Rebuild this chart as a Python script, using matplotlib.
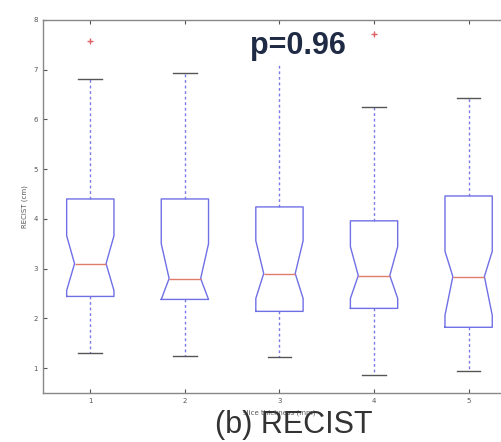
import matplotlib
matplotlib.use('Agg')
import matplotlib.pyplot as plt

# box plot statistics (RECIST, cm)
groups = [1, 2, 3, 4, 5]
med = [3.1, 2.8, 2.9, 2.86, 2.84]
q1 = [2.44, 2.38, 2.14, 2.2, 1.82]
q3 = [4.4, 4.4, 4.24, 3.96, 4.46]
whislo = [1.3, 1.25, 1.22, 0.86, 0.94]
whishi = [6.82, 6.93, 7.45, 6.24, 6.42]
cilo = [2.56, 2.38, 2.4, 2.4, 2.06]
cihi = [3.66, 3.5, 3.56, 3.44, 3.35]
fliers = [[7.58], [], [], [7.72], []]

stats = []
for i in range(len(groups)):
    stats.append(dict(med=med[i], q1=q1[i], q3=q3[i], whislo=whislo[i],
                      whishi=whishi[i], cilo=cilo[i], cihi=cihi[i],
                      fliers=fliers[i], label=str(groups[i])))

fig = plt.figure(figsize=(5.02, 4.42), dpi=100)
ax = fig.add_axes([0.0857, 0.111, 0.942, 0.844])

w = 0.5
parts = ax.bxp(stats, positions=groups, widths=w, shownotches=True,
               boxprops=dict(color='#6f6fe6', linewidth=1.0),
               whiskerprops=dict(color='#7a7ae8', linewidth=1.0, linestyle=(0, (2, 2))),
               capprops=dict(color='#555555', linewidth=1.0),
               medianprops=dict(color='#e07a6a', linewidth=1.0),
               flierprops=dict(marker='+', markeredgecolor='#e06060', markersize=4))

# matlab-style notch: waist is 2/3 of the box width
for i, s in enumerate(stats):
    p = groups[i]
    l, r = p - w / 2, p + w / 2
    nl, nr = p - w / 3, p + w / 3
    xs = [l, r, r, nr, r, r, l, l, nl, l, l]
    ys = [s['q1'], s['q1'], s['cilo'], s['med'], s['cihi'], s['q3'],
          s['q3'], s['cihi'], s['med'], s['cilo'], s['q1']]
    parts['boxes'][i].set_data(xs, ys)
    parts['medians'][i].set_data([nl, nr], [s['med'], s['med']])

ax.set_xlim(0.5, 5.5)
ax.set_ylim(0.5, 8)
ax.set_yticks([1, 2, 3, 4, 5, 6, 7, 8])
ax.set_xticks(groups)
ax.set_xticklabels([str(g) for g in groups])
ax.tick_params(direction='in', length=3, labelsize=5, colors='#555555',
               top=True, right=True)
for sp in ax.spines.values():
    sp.set_color('#888888')
    sp.set_linewidth(1.0)

ax.set_ylabel('RECIST (cm)', fontsize=5, color='#555555', labelpad=4)
ax.set_xlabel('slice thickness (mm)', fontsize=5, color='#555555', labelpad=4)

ax.text(0.54, 0.93, 'p=0.96', transform=ax.transAxes, family='Liberation Sans',
        fontweight='bold', fontsize=22, color='#1f2a44', ha='center', va='center',
        bbox=dict(facecolor='white', edgecolor='none', pad=1), zorder=5)
fig.text(0.586, 0.005, '(b) RECIST', family='Liberation Sans', fontsize=22,
         color='#333333', ha='center', va='bottom')

fig.savefig('out.png', dpi=100)
